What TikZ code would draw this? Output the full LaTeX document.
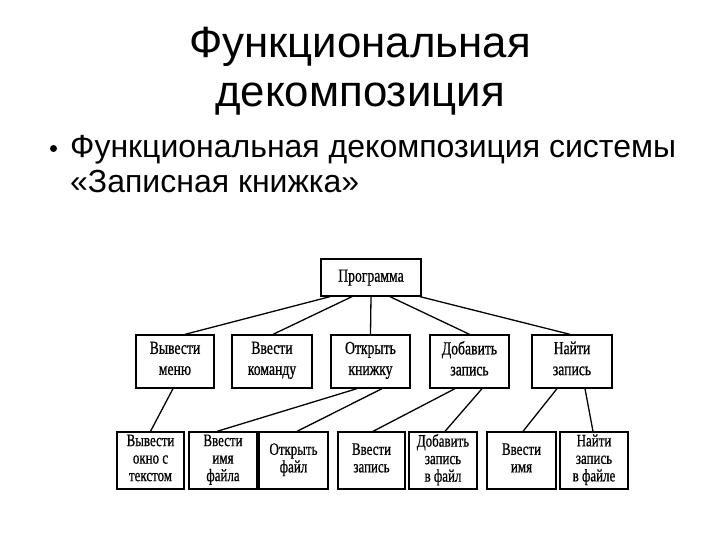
\documentclass[tikz,border=0pt]{standalone}
\usepackage{fontspec}
\setmainfont{Liberation Serif}
\newfontfamily\slidefont{Liberation Sans}
\newfontfamily\diafont[FakeStretch=0.74,FakeBold=0.7]{Liberation Serif}
\begin{document}
\begin{tikzpicture}[x=1pt,y=-1pt,
  box/.style={draw, line width=1.3pt, inner sep=1pt, align=center,
    execute at begin node={\strut}, execute at end node={\strut}},
  boxtwo/.style={box, minimum height=53pt, font=\diafont\fontsize{18.5}{21}\selectfont},
  boxthree/.style={box, minimum height=57pt, font=\diafont\fontsize{17.5}{17.5}\selectfont},
  link/.style={line width=1.3pt},
  titletext/.style={anchor=base, inner sep=0pt, font=\slidefont\fontsize{43.8}{49}\selectfont},
  bullettext/.style={anchor=base west, inner sep=0pt, font=\slidefont\fontsize{32}{38}\selectfont}]
\useasboundingbox[fill=white] (0,0) rectangle (720,540);

% title and bullet
\node[titletext] (t1) at (360,58) {Функциональная};
\node[titletext] (t2) at (360,107) {декомпозиция};
\node[circle, fill, inner sep=0pt, minimum size=7pt] (bul) at (53.5,148.5) {};
\node[bullettext] (b1) at (70,158) {Функциональная декомпозиция системы};
\node[bullettext] (b2) at (70,193) {«Записная книжка»};

% level 1
\node[box, minimum width=100pt, minimum height=37pt, font=\diafont\fontsize{18.5}{21}\selectfont] (prog) at (371,277.5) {Программа};

% level 2
\node[boxtwo, minimum width=78pt] (vm) at (175,361.5) {Вывести\\меню};
\node[boxtwo, minimum width=80pt] (vk) at (272,361.5) {Ввести\\команду};
\node[boxtwo, minimum width=79pt] (ok) at (370.5,361.5) {Открыть\\книжку};
\node[boxtwo, minimum width=79pt] (dz) at (469.5,361.5) {Добавить\\запись};
\node[boxtwo, minimum width=80pt] (nz) at (572,361.5) {Найти\\запись};

% level 3
\node[boxthree, minimum width=67pt] (vo) at (150.5,460.5) {Вывести\\окно с\\текстом};
\node[boxthree, minimum width=68pt] (vi) at (223,460.5) {Ввести\\имя\\файла};
\node[boxthree, minimum width=69pt] (of) at (293.5,460.5) {Открыть\\файл};
\node[boxthree, minimum width=67pt] (vz) at (371.5,460.5) {Ввести\\запись};
\node[boxthree, minimum width=68pt] (df) at (443,460.5) {Добавить\\запись\\в файл};
\node[boxthree, minimum width=69pt] (vn) at (521.5,460.5) {Ввести\\имя};
\node[boxthree, minimum width=68pt] (nf) at (594,460.5) {Найти\\запись\\в файле};

% connectors level 1 -> 2
\draw[link] ([xshift=-41pt]prog.south) -- ([xshift=10pt]vm.north);
\draw[link] ([xshift=-19pt]prog.south) -- ([xshift=1pt]vk.north);
\draw[link] (prog.south) -- (ok.north);
\draw[link] ([xshift=19pt]prog.south) -- (dz.north);
\draw[link] ([xshift=49pt]prog.south) -- ([xshift=-2pt]nz.north);

% connectors level 2 -> 3
\draw[link] ([xshift=-2pt]vm.south) -- (vo.north);
\draw[link] ([xshift=-13.5pt]ok.south) -- ([xshift=-6pt]vi.north);
\draw[link] ([xshift=11.5pt]ok.south) -- ([xshift=3.5pt]of.north);
\draw[link] ([xshift=-14.5pt]dz.south) -- ([xshift=1.5pt]vz.north);
\draw[link] ([xshift=12.5pt]dz.south) -- ([xshift=2pt]df.north);
\draw[link] ([xshift=-15pt]nz.south) -- ([xshift=1.5pt]vn.north);
\draw[link] ([xshift=13pt]nz.south) -- ([xshift=-1pt]nf.north);
\end{tikzpicture}
\end{document}
